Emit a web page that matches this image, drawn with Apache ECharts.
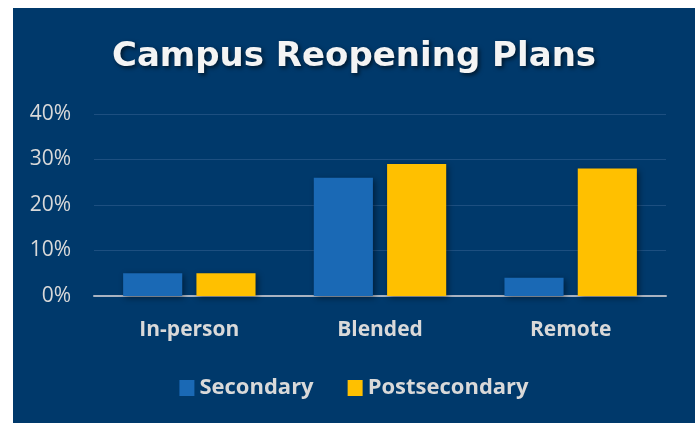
<!DOCTYPE html>
<html>
<head>
    <meta charset="UTF-8">
    <title>Campus Reopening Plans</title>
    <script src="https://cdn.jsdelivr.net/npm/echarts@6/dist/echarts.min.js"></script>
    <style>
        body {
            margin: 0;
            background: #ffffff;
            width: 699px;
            height: 423px;
            position: relative;
            overflow: hidden;
        }
        #main {
            position: absolute;
            left: 13px;
            top: 8px;
            width: 682px;
            height: 415px;
            background: #00396b;
        }
    </style>
</head>
<body>
    <div id="main"></div>
    <script>
        var categories = ['In-person', 'Blended', 'Remote'];
        var secondary = [5, 26, 4];
        var postsecondary = [5, 29, 28];
        var yTicks = [0, 10, 20, 30, 40];

        var chartDom = document.getElementById('main');
        var myChart = echarts.init(chartDom);
        var font = '"Open Sans", Lato, sans-serif';
        var barShadow = {
            shadowColor: 'rgba(0, 0, 0, 0.45)',
            shadowBlur: 6,
            shadowOffsetX: 2,
            shadowOffsetY: 2
        };

        var option = {
            backgroundColor: 'transparent',
            title: {
                text: 'Campus Reopening Plans',
                left: 'center',
                top: 27,
                textStyle: {
                    color: '#f4f4f4',
                    fontFamily: '"DejaVu Sans", sans-serif',
                    fontWeight: 'bold',
                    fontSize: 34,
                    textShadowColor: 'rgba(0, 0, 0, 0.6)',
                    textShadowBlur: 4,
                    textShadowOffsetX: 2,
                    textShadowOffsetY: 2
                }
            },
            legend: {
                data: ['Secondary', 'Postsecondary'],
                top: 364,
                left: 'center',
                icon: 'rect',
                itemWidth: 15,
                itemHeight: 16,
                itemGap: 34,
                textStyle: {
                    color: '#d9d9d9',
                    fontFamily: font,
                    fontWeight: 'bold',
                    fontSize: 22
                }
            },
            grid: {
                left: 81,
                right: 29,
                top: 106,
                bottom: 127
            },
            xAxis: {
                type: 'category',
                data: categories,
                axisTick: { show: false },
                axisLine: {
                    lineStyle: { color: '#a9b3c1', width: 2 }
                },
                axisLabel: {
                    color: '#d9d9d9',
                    fontFamily: font,
                    fontWeight: 'bold',
                    fontSize: 21,
                    margin: 24
                }
            },
            yAxis: {
                type: 'value',
                min: yTicks[0],
                max: yTicks[yTicks.length - 1],
                interval: 10,
                axisLine: { show: false },
                axisTick: { show: false },
                splitLine: {
                    lineStyle: { color: '#1d4f80', width: 1 }
                },
                axisLabel: {
                    color: '#d9d9d9',
                    fontFamily: font,
                    fontSize: 21,
                    margin: 23,
                    formatter: '{value}%'
                }
            },
            series: [
                {
                    name: 'Secondary',
                    type: 'bar',
                    data: secondary,
                    barWidth: '31%',
                    barGap: '24%',
                    itemStyle: Object.assign({ color: '#1a69b5' }, barShadow)
                },
                {
                    name: 'Postsecondary',
                    type: 'bar',
                    data: postsecondary,
                    barWidth: '31%',
                    barGap: '24%',
                    itemStyle: Object.assign({ color: '#ffc000' }, barShadow)
                }
            ]
        };

        option && myChart.setOption(option);
    </script>
</body>
</html>
